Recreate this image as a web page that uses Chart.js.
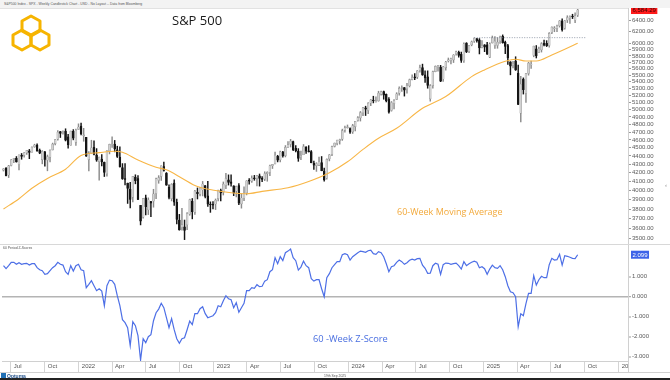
<!DOCTYPE html>
<html><head><meta charset="utf-8">
<script src="https://cdn.jsdelivr.net/npm/chart.js@4.4.1/dist/chart.umd.min.js"></script>
<style>
html,body{margin:0;padding:0;background:#fff;}
#wrap{position:relative;width:670px;height:380px;overflow:hidden;background:#fff;font-family:"Liberation Sans",Arial,sans-serif;}
.abs{position:absolute;white-space:nowrap;}
</style></head><body>
<div id="wrap">
 <div class="abs" style="left:0;top:0;width:670px;height:8px;background:#f3f3f3;"></div>
 <div class="abs" style="left:4px;top:2px;font-size:3.4px;color:#555;">S&amp;P500 Index - SPX - Weekly Candlestick Chart - USD - No Layout -- Data from Bloomberg</div>
 <canvas id="main" class="abs" style="left:0;top:8px;width:670px;height:236px;" width="670" height="236"></canvas>
 <canvas id="lower" class="abs" style="left:0;top:244px;width:670px;height:128px;" width="670" height="128"></canvas>
 <div class="abs" style="left:0;top:8px;width:628px;height:1px;background:#e2e2e2;"></div>
 <div class="abs" style="left:0;top:244px;width:670px;height:1px;background:#d8d8d8;"></div>
 <div class="abs" style="left:628px;top:361px;width:42px;height:11px;background:#fff;border-left:1px solid #d0d0d0;"></div>
 <div class="abs" style="left:0;top:372px;width:670px;height:1px;background:#d0d0d0;"></div>
 <div class="abs" style="left:0;top:378px;width:670px;height:2px;background:#222;"></div>
 <svg class="abs" style="left:10px;top:13px;" width="44" height="42" viewBox="0 0 44 42">
  <g fill="none" stroke="#f6b400" stroke-width="3" stroke-linejoin="round">
   <polygon points="21,3 30,8 30,18 21,23 12,18 12,8"/>
   <polygon points="12,17 21,22 21,32 12,37 3,32 3,22"/>
   <polygon points="30,17 39,22 39,32 30,37 21,32 21,22"/>
  </g>
 </svg>
 <div class="abs" style="left:172px;top:11px;font-family:'Open Sans';font-size:13px;color:#1a1a1a;">S&amp;P 500</div>
 <div class="abs" style="left:397px;top:205px;font-family:'Open Sans';font-size:9px;color:#f2a93b;">60-Week Moving Average</div>
 <div class="abs" style="left:3px;top:245.5px;font-size:3.4px;color:#555;">60 Period Z-Scores</div>
 <div class="abs" style="left:313px;top:332px;font-family:'Open Sans';font-size:9.3px;color:#4a6fe0;">60 -Week Z-Score</div>
 <div class="abs" style="left:1px;top:373px;width:5px;height:5px;background:#1f6fb5;"></div>
 <div class="abs" style="left:7px;top:372.5px;font-size:5px;color:#1f4f8a;font-weight:bold;">Optuma</div>
 <div class="abs" style="left:324px;top:374px;font-size:3.4px;color:#555;">19th Sep 2025</div>
 <div class="abs" style="left:665px;top:182px;font-size:6px;color:#888;">‹</div>
</div>
<script>
// ---------- DATA ----------
const firstWeek = '2021-06-11'; // weekly candles, week ending Friday
const opens = [
4230,4255,4174,4285,4356,4372,4297,4410,4407,4438,4462,4447,4513,4535,4470,4355,4450,4348,4385,4475,4553,4610,4707,4689,4712,4640,4532,4710,4569,4733,
4778,4655,4632,4356,4431,4505,4412,4332,4363,4323,4188,4462,4541,4548,4474,4385,4260,4130,4081,4013,3927,4151,4134,3838,3715,3920,3792,3880,3883,3967,4112,4158,4274,4195,4034,3910,4083,3872,3686,3609,3618,3638,3746,3882,3765,3978,3957,4005,4053,3940,3853,3843,
3853,3910,3999,3979,4053,4120,4096,4052,3992,4055,3855,3917,3975,4109,4105,4137,4133,4166,4138,4127,4191,4206,4283,4304,4396,4354,4450,4404,4508,4543,4578,4492,4459,4389,4415,4510,4463,4453,4313,4284,4289,4320,4217,4140,4364,4418,4517,4554,4589,4610,4725,4758,
4745,4703,4772,4853,4887,4957,5026,4989,5093,5131,5111,5123,5219,5257,5218,5150,4988,5084,5142,5233,5303,5315,5298,5341,5432,5473,5471,5572,5615,5505,5476,5151,5344,5554,5630,5624,5442,5615,5719,5726,5737,5833,5859,5826,5724,6009,5875,5982,6040,6083,6063,5941,
5979,5982,5782,6014,5969,5970,6046,6122,6027,5968,5706,5659,5718,5527,4953,5441,5232,5526,5656,5807,5914,5855,5897,6004,6004,5970,6188,6253,6254,6304,6392,6261,6400,6445,6466,6401,6489];
const highs = [
4249,4262,4287,4355,4372,4393,4415,4430,4440,4470,4480,4513,4545,4549,4485,4465,4455,4411,4475,4559,4608,4719,4708,4717,4743,4672,4713,4732,4740,4808,
4818,4749,4632,4453,4595,4589,4490,4386,4416,4327,4466,4546,4637,4593,4520,4512,4308,4307,4082,4090,4160,4177,4168,3838,3914,3950,3919,3881,4013,4140,4167,4280,4325,4203,4062,4076,4119,3907,3744,3807,3686,3763,3905,3912,4000,4028,4034,4101,4054,4101,3876,3878,
3907,4003,4015,4095,4195,4176,4176,4052,4049,4078,3965,4040,4110,4133,4164,4170,4170,4186,4155,4212,4212,4290,4299,4448,4408,4458,4456,4528,4578,4607,4584,4528,4490,4458,4541,4514,4527,4466,4338,4319,4386,4393,4256,4366,4418,4521,4560,4596,4609,4738,4779,4793,
4754,4802,4842,4907,4975,5031,5048,5098,5140,5189,5179,5261,5265,5264,5222,5168,5114,5142,5240,5325,5342,5315,5376,5441,5505,5524,5570,5655,5670,5566,5566,5360,5564,5643,5652,5651,5636,5716,5767,5765,5822,5879,5878,5862,6012,6017,5972,6044,6099,6085,6085,6050,
5985,6021,6014,6128,6120,6101,6128,6147,6044,5987,5710,5715,5787,5655,5481,5459,5528,5700,5720,5959,5969,5944,6017,6059,6050,6188,6284,6290,6315,6395,6427,6395,6481,6481,6508,6532,6600];
const lows = [
4220,4165,4145,4280,4320,4325,4233,4360,4385,4420,4367,4445,4506,4457,4427,4305,4278,4223,4329,4473,4537,4595,4630,4672,4586,4495,4532,4600,4531,4733,
4662,4582,4395,4222,4431,4411,4335,4115,4279,4157,4162,4425,4505,4450,4381,4267,4124,4062,3859,3811,3875,4074,3900,3637,3705,3738,3742,3721,3819,3910,4080,4112,4218,4057,3907,3886,3838,3648,3584,3584,3492,3590,3735,3698,3744,3907,3940,3940,3918,3828,3765,3801,
3794,3885,3885,3950,4021,4060,4047,3943,3928,3846,3809,3889,3951,4069,4091,4114,4049,4048,4099,4110,4103,4166,4250,4303,4328,4328,4385,4388,4506,4510,4464,4449,4335,4356,4415,4430,4448,4317,4238,4216,4283,4223,4104,4127,4340,4404,4510,4537,4546,4593,4700,4751,
4682,4682,4714,4845,4845,4918,4920,4946,5056,5094,5104,5118,5204,5146,5108,4953,4979,5011,5140,5205,5257,5191,5234,5324,5428,5433,5448,5546,5497,5390,5305,5119,5306,5551,5560,5402,5406,5575,5703,5674,5695,5814,5780,5697,5696,5853,5853,5964,6021,6024,5832,5929,
5869,5826,5773,6010,5923,5924,6003,6008,5837,5667,5505,5611,5572,5069,4835,5220,5101,5500,5603,5786,5767,5855,5862,5963,5952,5943,6168,6201,6201,6281,6212,6247,6360,6343,6430,6360,6466];
const closes = [
4247,4166,4281,4352,4370,4327,4412,4395,4437,4468,4442,4509,4535,4459,4433,4455,4357,4391,4471,4545,4605,4697,4683,4698,4595,4538,4712,4620,4726,4766,
4677,4663,4398,4432,4501,4419,4349,4385,4329,4204,4463,4543,4546,4488,4393,4272,4132,4123,4023,3901,4158,4109,3901,3675,3912,3825,3899,3863,3962,4130,4145,4280,4228,4058,3924,4067,3873,3693,3586,3640,3583,3753,3901,3771,3993,3965,4026,4072,3934,3852,3845,3840,
3895,3999,3973,4071,4136,4090,4079,3970,4046,3862,3917,3971,4109,4105,4138,4133,4169,4136,4124,4192,4205,4282,4299,4410,4348,4450,4399,4505,4536,4582,4478,4464,4370,4406,4516,4457,4450,4320,4288,4309,4327,4224,4117,4358,4415,4514,4559,4595,4604,4719,4755,4770,
4697,4784,4840,4891,4959,5027,5006,5089,5137,5124,5117,5234,5254,5204,5123,4967,5100,5128,5223,5303,5305,5278,5347,5432,5465,5460,5567,5615,5505,5459,5347,5344,5554,5635,5648,5408,5626,5703,5738,5751,5815,5865,5808,5729,5995,5870,5969,6032,6090,6051,5931,5971,
5942,5827,5997,6101,6041,6026,6115,6013,5955,5770,5639,5668,5581,5074,5363,5283,5525,5686,5660,5958,5802,5912,6000,5977,5968,6173,6279,6260,6297,6389,6238,6389,6449,6467,6460,6482,6584.29];
// 60-week moving average, read at sample weeks (week index)
const maWeeks  = [0,6,11,17,24,30,37,43,46,52,59,63,69,75,82,88,94,100,110,118,126,133,139,145,152,162,171,181,186,194,198,202,206,212,217,222];
const maValues = [3800,3910,4025,4135,4241,4405,4440,4457,4445,4351,4264,4235,4138,4043,3999,3974,3963,3990,4030,4100,4200,4330,4480,4620,4749,5019,5184,5478,5580,5714,5747,5720,5720,5815,5907,6006];
// 60-week z-score of weekly close
const zScores = [
1.55,1.40,1.55,1.72,1.72,1.62,1.70,1.62,1.65,1.67,
1.58,1.65,1.65,1.45,1.35,1.30,1.12,1.15,1.30,1.45,
1.55,1.72,1.62,1.58,1.25,1.12,1.55,1.28,1.55,1.62,
1.35,1.30,0.45,0.62,0.80,0.55,0.30,0.40,0.28,-0.45,
0.55,0.83,0.80,0.62,0.05,-0.45,-1.15,-1.30,-1.55,-2.45,
-1.25,-1.45,-1.95,-3.17,-2.10,-2.30,-2.00,-1.90,-1.20,-0.80,
-0.62,-0.33,-0.55,-1.05,-1.55,-1.10,-1.65,-2.10,-2.33,-2.10,
-2.05,-1.65,-1.22,-1.40,-0.85,-0.85,-0.60,-0.50,-0.85,-1.05,
-1.00,-0.95,-0.80,-0.45,-0.50,-0.20,0.05,-0.10,-0.15,-0.55,
-0.30,-0.78,-0.55,-0.33,0.30,0.30,0.45,0.42,0.60,0.50,
0.52,0.78,0.85,1.25,1.35,1.95,1.65,2.00,1.80,2.20,
2.28,2.38,1.95,1.80,1.33,1.48,1.78,1.55,1.45,0.90,
0.78,0.85,0.85,0.40,0.00,0.95,1.15,1.45,1.60,1.75,
1.75,2.10,2.15,2.10,1.83,2.00,2.10,2.20,2.28,2.25,
2.22,2.30,2.33,2.15,2.12,2.25,2.20,2.00,1.65,1.25,
1.50,1.55,1.72,1.83,1.75,1.62,1.70,1.82,1.88,1.83,
1.90,1.92,1.58,1.42,1.17,1.18,1.55,1.67,1.62,1.12,
1.60,1.68,1.67,1.62,1.65,1.68,1.55,1.38,1.75,1.55,
1.65,1.72,1.78,1.72,1.45,1.50,1.40,1.12,1.38,1.58,
1.45,1.42,1.55,1.35,1.00,0.55,0.25,0.20,0.00,-1.50,
-0.85,-0.95,-0.35,0.17,0.17,1.05,0.58,0.85,1.02,0.95,
0.95,1.60,1.92,1.83,1.85,2.12,1.58,2.05,2.02,1.97,
1.92,1.90,2.099];
// horizontal resistance line (dotted)
const levelValue = 6100;
const levelRange = ['2024-12-06','2025-10-03'];
// axes
const priceTicks = [6400,6200,6000,5900,5800,5700,5600,5500,5400,5300,5200,5100,5000,4900,4800,4700,4600,4500,4400,4300,4200,4100,4000,3900,3800,3700,3600,3500];
const zTicks = [1,0,-1,-2,-3];
const xTickDates  = ['2021-07-01','2021-10-01','2022-01-01','2022-04-01','2022-07-01','2022-10-01','2023-01-01','2023-04-01','2023-07-01','2023-10-01','2024-01-01','2024-04-01','2024-07-01','2024-10-01','2025-01-01','2025-04-01','2025-07-01','2025-10-01','2026-01-01'];
const xTickLabels = ['Jul','Oct','2022','Apr','Jul','Oct','2023','Apr','Jul','Oct','2024','Apr','Jul','Oct','2025','Apr','Jul','Oct','2026'];
const xRange = ['2021-06-07T00:00:00Z','2026-01-26T04:00:00Z'];

// ---------- BUILD ----------
const DAY = 86400000;
const t0 = Date.parse(firstWeek + 'T00:00:00Z');
const weekX = i => t0 + i * 7 * DAY;
const xMin = Date.parse(xRange[0]), xMax = Date.parse(xRange[1]);
const tickVals = xTickDates.map(d => Date.parse(d + 'T00:00:00Z'));
const UP_FILL = '#d2d2d2', UP_LINE = '#8c8c8c', DN_FILL = '#161616';
const isUp = closes.map((c, i) => c >= opens[i]);
const bodies = closes.map((c, i) => ({x: weekX(i), y: [opens[i], c]}));
const wicks = closes.map((c, i) => ({x: weekX(i), y: [lows[i], highs[i]]}));
const maPts = maWeeks.map((w, k) => ({x: weekX(w), y: maValues[k]}));
const zPts = zScores.map((z, i) => ({x: weekX(i), y: z}));
const levelPts = levelRange.map(d => ({x: Date.parse(d + 'T00:00:00Z'), y: levelValue}));

const AXW = 42;
const fitY = s => { s.width = AXW; s.paddingTop = 0; s.paddingBottom = 0; };
const valueBox = {
  id: 'valueBox',
  afterDraw(chart, args, o) {
    const ctx = chart.ctx, y = chart.scales.y.getPixelForValue(o.value);
    ctx.save();
    ctx.font = '6px "Liberation Sans"';
    const w = ctx.measureText(o.text).width + 3;
    const x = chart.chartArea.right + 3;
    ctx.fillStyle = o.bg; ctx.fillRect(x, y - 4, w, 8);
    ctx.fillStyle = o.fg; ctx.textBaseline = 'middle'; ctx.textAlign = 'left';
    ctx.fillText(o.text, x + 1.5, y + 0.5);
    ctx.restore();
  }
};

new Chart(document.getElementById('main'), {
  type: 'bar',
  data: { datasets: [
    { type: 'line', data: maPts, borderColor: '#f8b646', borderWidth: 1.1, pointRadius: 0, cubicInterpolationMode: 'monotone', order: 0 },
    { type: 'line', data: levelPts, borderColor: '#7b8597', borderWidth: 0.8, borderDash: [1, 1.5], pointRadius: 0, order: 0 },
    { data: wicks, backgroundColor: isUp.map(u => u ? UP_LINE : DN_FILL), barThickness: 0.8, grouped: false, order: 2 },
    { data: bodies, backgroundColor: isUp.map(u => u ? UP_FILL : DN_FILL), borderColor: isUp.map(u => u ? UP_LINE : DN_FILL), borderWidth: 0.4, borderSkipped: false, barThickness: 1.9, minBarLength: 0.8, grouped: false, order: 1 }
  ]},
  options: {
    responsive: false, animation: false, events: [],
    layout: { padding: { left: 2, right: 0, top: 0, bottom: 0 } },
    plugins: { legend: { display: false }, tooltip: { enabled: false },
      valueBox: { value: closes[closes.length - 1], text: closes[closes.length - 1].toLocaleString('en-US', {minimumFractionDigits: 2}), bg: '#ff1a1a', fg: '#3a0000' } },
    scales: {
      x: { type: 'linear', min: xMin, max: xMax, display: false, offset: false, grid: { offset: false } },
      y: { type: 'logarithmic', position: 'right', min: 3450, max: 6621,
        afterBuildTicks: s => { s.ticks = priceTicks.map(v => ({value: v})); },
        afterFit: fitY,
        border: { display: true, color: '#d0d0d0' },
        grid: { drawOnChartArea: false, drawTicks: true, tickLength: 3, color: '#9a9a9a' },
        ticks: { autoSkip: false, padding: 1, color: '#5a5a5a', font: { size: 6, family: 'Liberation Sans' }, callback: v => Number(v).toFixed(2) } }
    }
  },
  plugins: [valueBox]
});

new Chart(document.getElementById('lower'), {
  type: 'line',
  data: { datasets: [
    { data: zPts, borderColor: '#4d6fe6', borderWidth: 1.2, pointRadius: 0, tension: 0 }
  ]},
  options: {
    responsive: false, animation: false, events: [],
    layout: { padding: { left: 2, right: 0, top: 1, bottom: 0 } },
    plugins: { legend: { display: false }, tooltip: { enabled: false },
      valueBox: { value: zScores[zScores.length - 1], text: zScores[zScores.length - 1].toFixed(3), bg: '#3d63e8', fg: '#ffffff' } },
    scales: {
      x: { type: 'linear', min: xMin, max: xMax, offset: false,
        afterBuildTicks: s => { s.ticks = tickVals.map(v => ({value: v})); },
        afterFit: s => { s.height = 11; s.paddingLeft = 0; s.paddingRight = 0; },
        border: { display: true, color: '#d0d0d0' },
        grid: { drawOnChartArea: false, drawTicks: true, tickLength: 11, color: '#d4d4d4' },
        ticks: { autoSkip: false, maxRotation: 0, minRotation: 0, align: 'start', labelOffset: 3, padding: -9,
          color: '#555', font: { size: 6, family: 'Liberation Sans' }, callback: (v, i) => xTickLabels[i] } },
      y: { type: 'linear', position: 'right', min: -3.215, max: 2.585,
        afterBuildTicks: s => { s.ticks = zTicks.map(v => ({value: v})); },
        afterFit: fitY,
        border: { display: true, color: '#d0d0d0' },
        grid: { drawOnChartArea: true, drawTicks: true, tickLength: 3,
          color: c => (c.tick && c.tick.value === 0) ? '#b4b4b4' : 'rgba(0,0,0,0)',
          lineWidth: c => (c.tick && c.tick.value === 0) ? 1.4 : 0,
          tickColor: '#9a9a9a', tickWidth: 1 },
        ticks: { autoSkip: false, padding: 1, color: '#5a5a5a', font: { size: 6, family: 'Liberation Sans' }, callback: v => Number(v).toFixed(3) } }
    }
  },
  plugins: [valueBox]
});
</script>
</body></html>
